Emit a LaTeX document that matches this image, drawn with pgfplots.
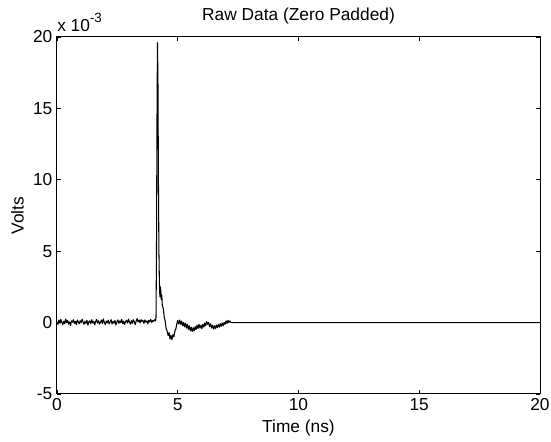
\documentclass[border=0pt]{standalone}
\usepackage{fontspec}
\setmainfont{Liberation Sans}
\usepackage{pgfplots}
\pgfplotsset{compat=1.18}

% raw trace, volts in units of 1e-3
\pgfplotstableread{
t y
0.00 0.05
0.04 -0.12
0.08 0.18
0.12 -0.05
0.16 0.22
0.20 0.02
0.24 -0.15
0.28 0.10
0.32 -0.08
0.36 0.25
0.40 0.00
0.44 0.15
0.48 -0.10
0.52 0.05
0.56 -0.20
0.60 0.12
0.64 0.03
0.68 0.20
0.72 -0.06
0.76 0.08
0.80 -0.14
0.84 0.18
0.88 0.05
0.92 -0.09
0.96 0.14
1.00 -0.02
1.04 0.24
1.08 0.04
1.12 -0.12
1.16 0.10
1.20 -0.05
1.24 0.16
1.28 -0.18
1.32 0.06
1.36 0.12
1.40 -0.08
1.44 0.20
1.48 -0.03
1.52 0.09
1.56 -0.16
1.60 0.07
1.64 0.22
1.68 -0.04
1.72 0.13
1.76 -0.11
1.80 0.03
1.84 0.18
1.88 -0.07
1.92 0.26
1.96 0.01
2.00 -0.13
2.04 0.11
2.08 -0.02
2.12 0.17
2.16 -0.09
2.20 0.06
2.24 0.21
2.28 -0.10
2.32 0.08
2.36 -0.04
2.40 0.15
2.44 -0.17
2.48 0.04
2.52 0.19
2.56 -0.06
2.60 0.12
2.64 0.00
2.68 0.23
2.72 -0.08
2.76 0.10
2.80 -0.12
2.84 0.07
2.88 0.16
2.92 -0.03
2.96 0.25
3.00 0.02
3.04 -0.10
3.08 0.14
3.12 -0.05
3.16 0.20
3.20 0.06
3.24 -0.14
3.28 0.11
3.32 0.28
3.36 0.04
3.40 0.18
3.44 -0.02
3.48 0.21
3.52 0.08
3.56 0.15
3.60 -0.06
3.64 0.19
3.68 0.03
3.72 0.12
3.76 -0.09
3.80 0.16
3.84 0.05
3.88 0.22
3.92 0.01
3.96 0.14
4.00 0.09
4.04 0.20
4.08 0.12
4.10 0.35
4.12 5.0
4.14 14.0
4.16 19.6
4.18 17.0
4.20 10.0
4.22 5.0
4.24 2.8
4.26 1.8
4.28 2.5
4.30 2.2
4.32 1.6
4.34 1.9
4.36 1.2
4.40 1.0
4.44 0.4
4.48 0.1
4.52 -0.4
4.56 -0.6
4.60 -0.9
4.64 -0.7
4.68 -1.15
4.72 -0.9
4.76 -1.2
4.80 -0.85
4.84 -1.0
4.88 -0.6
4.92 -0.45
4.96 -0.1
5.00 0.15
5.04 -0.10
5.08 0.18
5.12 -0.12
5.16 0.10
5.20 -0.22
5.24 0.02
5.28 -0.30
5.32 -0.05
5.36 -0.38
5.40 -0.12
5.44 -0.48
5.48 -0.22
5.52 -0.58
5.56 -0.32
5.60 -0.62
5.64 -0.36
5.68 -0.58
5.72 -0.28
5.76 -0.48
5.80 -0.18
5.84 -0.42
5.88 -0.12
5.92 -0.38
5.96 -0.18
6.00 -0.42
6.04 -0.12
6.08 -0.32
6.12 -0.02
6.16 -0.22
6.20 0.06
6.24 -0.12
6.28 0.02
6.32 -0.28
6.36 -0.08
6.40 -0.38
6.44 -0.18
6.48 -0.46
6.52 -0.22
6.56 -0.42
6.60 -0.18
6.64 -0.36
6.68 -0.12
6.72 -0.32
6.76 -0.08
6.80 -0.26
6.84 -0.02
6.88 -0.22
6.92 0.02
6.96 -0.12
7.00 0.12
7.04 -0.06
7.08 0.16
7.12 0.00
7.16 0.12
7.20 0.02
7.24 0.00
20.00 0.00
}\rawtrace

\begin{document}
\begin{tikzpicture}
\useasboundingbox (-42.75pt,-36pt) rectangle (370.5pt,295.5pt);
\begin{axis}[
    at={(0,0)}, anchor=south west,
    scale only axis,
    width=362.25pt,
    height=267.75pt,
    xmin=0, xmax=20,
    ymin=-5, ymax=20,
    xtick={0,5,10,15,20},
    ytick={-5,0,5,10,15,20},
    xticklabels={0,5,10,15,20},
    yticklabels={-5,0,5,10,15,20},
    tick align=inside,
    major tick length=3pt,
    axis line style={black, line width=0.75pt},
    every tick/.style={black, line width=0.6pt},
    tick label style={font=\fontsize{13}{15}\selectfont},
    xlabel={Time (ns)},
    ylabel={Volts},
    label style={font=\fontsize{13}{15}\selectfont},
    title={Raw Data (Zero Padded)},
    title style={font=\fontsize{13}{15}\selectfont},
    clip=true,
]
\addplot[black, line width=0.8pt, mark=none, line join=round] table[x=t, y=y] {\rawtrace};
\end{axis}
\node[anchor=base west, inner sep=0pt, font=\fontsize{13}{15}\selectfont]
    at (0pt,271.5pt) {x 10\raisebox{0.55em}{\fontsize{10}{12}\selectfont -3}};
\end{tikzpicture}
\end{document}
